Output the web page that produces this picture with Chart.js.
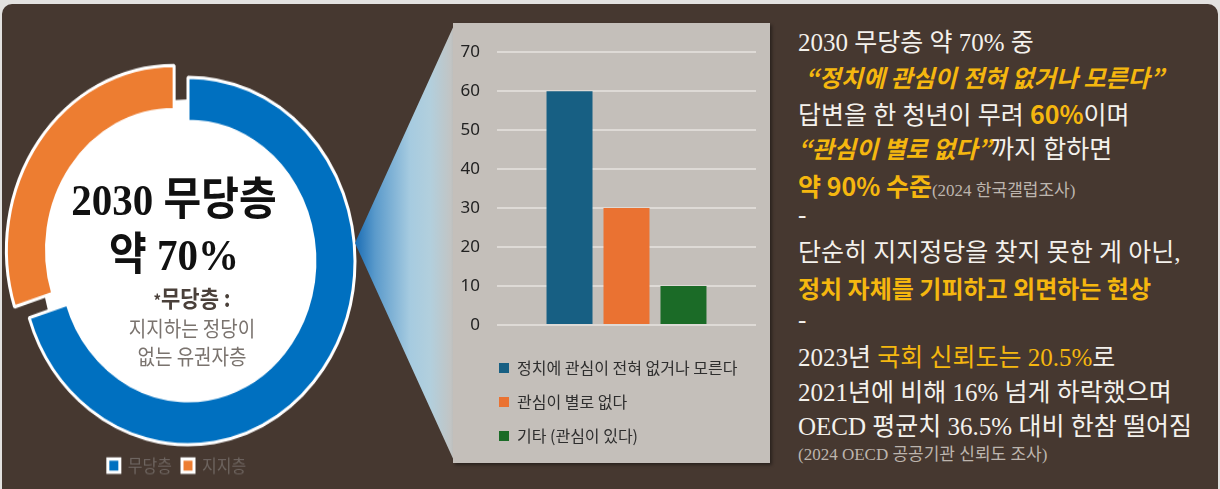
<!DOCTYPE html>
<html>
<head>
<meta charset="utf-8">
<script src="https://cdn.jsdelivr.net/npm/chart.js@4/dist/chart.umd.min.js"></script>
<style>
  body { margin:0; width:1220px; height:489px; background:#e3e2e0; overflow:hidden; position:relative;
         font-family:"Noto Sans CJK KR", sans-serif; }
  #board { position:absolute; left:2px; top:4px; width:1216px; height:500px; background:#463830; border-radius:10px 10px 0 0; }
  #donutWrap { position:absolute; left:0; top:0; width:376px; height:489px; transform:scaleY(1.1); transform-origin:188px 261px; }
  #donutWrap .t { position:absolute; width:376px; text-align:center; white-space:nowrap; }
  .big { font-family:"Liberation Serif","Noto Sans CJK KR",serif; font-weight:bold; font-size:41px; line-height:40px; color:#111; }
  #cone { position:absolute; left:355px; top:23px; width:100px; height:440px;
          clip-path:polygon(0 220px, 100px 0, 100px 440px);
          background:linear-gradient(to right, #1a6db5 0%, #5a9acb 20%, #a6cbe0 55%, #b2cfdd 75%, #c4c2bf 100%); }
  #panel { position:absolute; left:453px; top:23px; width:317px; height:440px; background:#c4bfba; box-shadow:2px 2px 3px rgba(0,0,0,0.4); }
  #barChart { position:absolute; left:455px; top:25px; }
  .ln { position:absolute; left:798px; height:30px; line-height:30px; font-size:25px; color:#f4f1ec; white-space:nowrap;
        font-family:"Liberation Serif","Noto Sans CJK KR",serif; }
  .y { color:#f5b70f; }
  .it { font-family:"Noto Sans CJK KR",sans-serif; font-style:italic; font-weight:bold; font-size:24px; }
  .hv { font-family:"Noto Sans CJK KR",sans-serif; font-weight:bold; }
  .src { font-size:17px; color:#bdb5ae; }
</style>
</head>
<body>
<div id="board"></div>

<div id="donutWrap">
  <canvas id="donut" width="376" height="489"></canvas>
  <div class="t big" style="left:-14px; top:185px;">2030 무당층</div>
  <div class="t big" style="left:-14px; top:235px;">약 70%</div>
  <div class="t" style="left:4px; top:283px; font-size:21px; line-height:23px; font-weight:bold; color:#4a403a;"><span style="font-size:15px;">*</span>무당층 :</div>
  <div class="t" style="left:4px; top:310px; font-size:19px; line-height:22px; color:#7a736e;">지지하는 정당이</div>
  <div class="t" style="left:4px; top:336px; font-size:19px; line-height:22px; color:#7a736e;">없는 유권자층</div>
</div>

<div id="cone"></div>
<div id="panel"></div>
<canvas id="barChart" width="313" height="436"></canvas>

<div class="ln" style="top:28px;">2030 무당층 약 70% 중</div>
<div class="ln y it" style="top:62px; left:805px;">“정치에 관심이 전혀 없거나 모른다”</div>
<div class="ln" style="top:98px;">답변을 한 청년이 무려 <span class="y hv">60%</span>이며</div>
<div class="ln" style="top:133px;"><span class="y it">“관심이 별로 없다”</span>까지 합하면</div>
<div class="ln" style="top:170px;"><span class="y hv">약 90% 수준</span><span class="src">(2024 한국갤럽조사)</span></div>
<div class="ln" style="top:200px;">-</div>
<div class="ln" style="top:238px;">단순히 지지정당을 찾지 못한 게 아닌,</div>
<div class="ln y hv" style="top:273px; font-size:24px;">정치 자체를 기피하고 외면하는 현상</div>
<div class="ln" style="top:305px;">-</div>
<div class="ln" style="top:343px;">2023년 <span class="y">국회 신뢰도는 20.5%</span>로</div>
<div class="ln" style="top:378px;">2021년에 비해 16% 넘게 하락했으며</div>
<div class="ln" style="top:412px;">OECD 평균치 36.5% 대비 한참 떨어짐</div>
<div class="ln src" style="top:440px;">(2024 OECD 공공기관 신뢰도 조사)</div>

<script>
// donut: share of 2030 voters
const donutLabels = ['무당층', '지지층'];
const donutValues = [70, 30];
const donutColors = ['#0070c0', '#ed7d31'];

// bar: interest in politics (%)
const barLabels = ['정치에 관심이 전혀 없거나 모른다', '관심이 별로 없다', '기타 (관심이 있다)'];
const barValues = [60, 30, 10];
const barColors = ['#175f83', '#ea7232', '#1b6b27'];
const yTicks = [0, 10, 20, 30, 40, 50, 60, 70];

// white disc behind the ring
const centerFill = {
  id: 'centerFill',
  beforeDatasetsDraw(chart) {
    const arc = chart.getDatasetMeta(0).data[0];
    const ctx = chart.ctx;
    ctx.save();
    ctx.fillStyle = '#ffffff';
    ctx.beginPath();
    ctx.arc(arc.x, arc.y, (arc.innerRadius + arc.outerRadius) / 2, 0, Math.PI * 2);
    ctx.fill();
    ctx.restore();
  }
};

// nudge the legend box sideways after layout
const legendShift = {
  id: 'legendShift',
  afterLayout(chart, args, opts) {
    if (!chart.legend || !opts.dx) return;
    chart.legend.left += opts.dx;
    chart.legend.right += opts.dx;
  }
};

new Chart(document.getElementById('donut'), {
  type: 'doughnut',
  data: {
    labels: donutLabels,
    datasets: [{
      data: donutValues,
      backgroundColor: donutColors,
      borderColor: '#ffffff',
      borderWidth: 3,
      offset: [0, 68],   // chart.js draws offset/4 -> ~17px
      radius: 167,
      cutout: '76%',
      clip: false
    }]
  },
  options: {
    responsive: false,
    animation: false,
    layout: { padding: { top: 93, bottom: 24 } },
    plugins: {
      tooltip: { enabled: false },
      legendShift: { dx: -11 },
      legend: {
        position: 'bottom',
        labels: {
          boxWidth: 12,
          boxHeight: 12,
          padding: 10,
          color: '#6e6560',
          font: { family: '"Noto Sans CJK KR", sans-serif', size: 16 }
        }
      }
    }
  },
  plugins: [centerFill, legendShift]
});

new Chart(document.getElementById('barChart'), {
  type: 'bar',
  data: {
    labels: [''],
    datasets: barLabels.map((name, i) => ({
      label: name,
      data: [barValues[i]],
      backgroundColor: barColors[i],
      categoryPercentage: 0.66,
      barPercentage: 0.807
    }))
  },
  options: {
    responsive: false,
    animation: false,
    layout: { padding: { left: 0, top: 17, right: 12, bottom: 7 } },
    scales: {
      x: {
        grid: { display: false },
        border: { display: false },
        ticks: { display: false },
        afterFit: (s) => { s.height = 17; }
      },
      y: {
        min: yTicks[0],
        max: yTicks[yTicks.length - 1],
        afterFit: (s) => { s.width = 42; },
        border: { display: false },
        grid: { color: '#dedad6', lineWidth: 2, drawTicks: false },
        ticks: {
          stepSize: yTicks[1] - yTicks[0],
          padding: 17,
          color: '#222',
          font: { family: '"Noto Sans", sans-serif', size: 17 }
        }
      }
    },
    plugins: {
      tooltip: { enabled: false },
      legendShift: { dx: 26 },
      legend: {
        position: 'bottom',
        align: 'start',
        labels: {
          boxWidth: 10,
          boxHeight: 10,
          padding: 18,
          color: '#2e2e2e',
          font: { family: '"Noto Sans CJK KR", sans-serif', size: 16 }
        }
      }
    }
  },
  plugins: [legendShift]
});
</script>
</body>
</html>
